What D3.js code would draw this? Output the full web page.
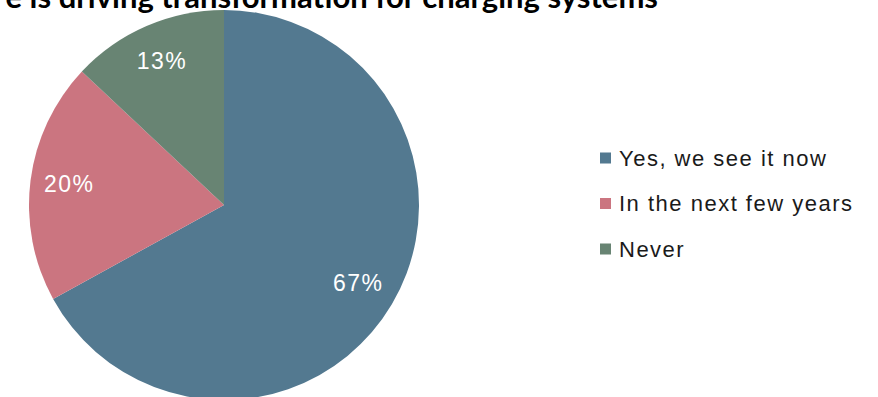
<!DOCTYPE html>
<html lang="en">
<head>
	<meta charset="UTF-8">
	<title>Charging systems</title>
	<script src="https://cdn.jsdelivr.net/npm/d3@7"></script>
	<style>
		body {
			margin: 0;
			background-color: #ffffff;
		}
		.title {
			font-family: Lato, "Open Sans", sans-serif;
			font-weight: bold;
			font-size: 31px;
			fill: #000000;
		}
		.slice-label {
			font-family: "Liberation Sans", Arial, sans-serif;
			font-size: 23px;
			letter-spacing: 1.5px;
			fill: #ffffff;
		}
		.legend text {
			font-family: "Liberation Sans", Arial, sans-serif;
			font-size: 22px;
			letter-spacing: 1.5px;
			fill: #1a1a1a;
		}
	</style>
</head>
<body>
<script>

	var categories = ['Yes, we see it now', 'In the next few years', 'Never'];
	var values = [67, 20, 13];
	var colors = ['#537990', '#cb7580', '#688473'];
	var titleText = 'e is driving transformation for charging systems';

	var width = 878,
			height = 397;

	var svg = d3.select('body').append('svg')
		.attr('width', width)
		.attr('height', height);

	var data = categories.map(function (c, i) {
		return {name: c, value: values[i]};
	});

	var color = d3.scaleOrdinal()
		.domain(categories)
		.range(colors);

	var radius = 195;
	var cx = 224,
			cy = 205;

	var pie = d3.pie()
		.sort(null)
		.value(function (d) { return d.value; });

	var arc = d3.arc()
		.innerRadius(0)
		.outerRadius(radius);

	var labelArc = d3.arc()
		.innerRadius(radius * 0.8)
		.outerRadius(radius * 0.8);

	var g = svg.append('g')
		.attr('transform', 'translate(' + cx + ',' + cy + ')');

	var arcs = g.selectAll('.slice')
		.data(pie(data))
		.enter()
		.append('g')
		.attr('class', 'slice');

	arcs.append('path')
		.attr('d', arc)
		.style('fill', function (d) { return color(d.data.name); });

	arcs.append('text')
		.attr('class', 'slice-label')
		.attr('transform', function (d) {
			return 'translate(' + labelArc.centroid(d) + ')';
		})
		.attr('text-anchor', 'middle')
		.attr('dy', '0.3em')
		.text(function (d) { return d.data.value + '%'; });

	// title is cut off by the top of the frame
	svg.append('text')
		.attr('class', 'title')
		.attr('x', 658)
		.attr('y', 8)
		.attr('text-anchor', 'end')
		.text(titleText);

	var legendRectSize = 11;
	var legendSpacing = 45.5;

	var legend = svg.selectAll('.legend')
		.data(categories)
		.enter()
		.append('g')
		.attr('class', 'legend')
		.attr('transform', function (d, i) {
			return 'translate(600,' + (158 + i * legendSpacing) + ')';
		});

	legend.append('rect')
		.attr('x', 0)
		.attr('y', -legendRectSize / 2)
		.attr('width', legendRectSize)
		.attr('height', legendRectSize)
		.style('fill', color);

	legend.append('text')
		.attr('x', 19)
		.attr('dy', '0.36em')
		.text(function (d) { return d; });

</script>
</body>
</html>
